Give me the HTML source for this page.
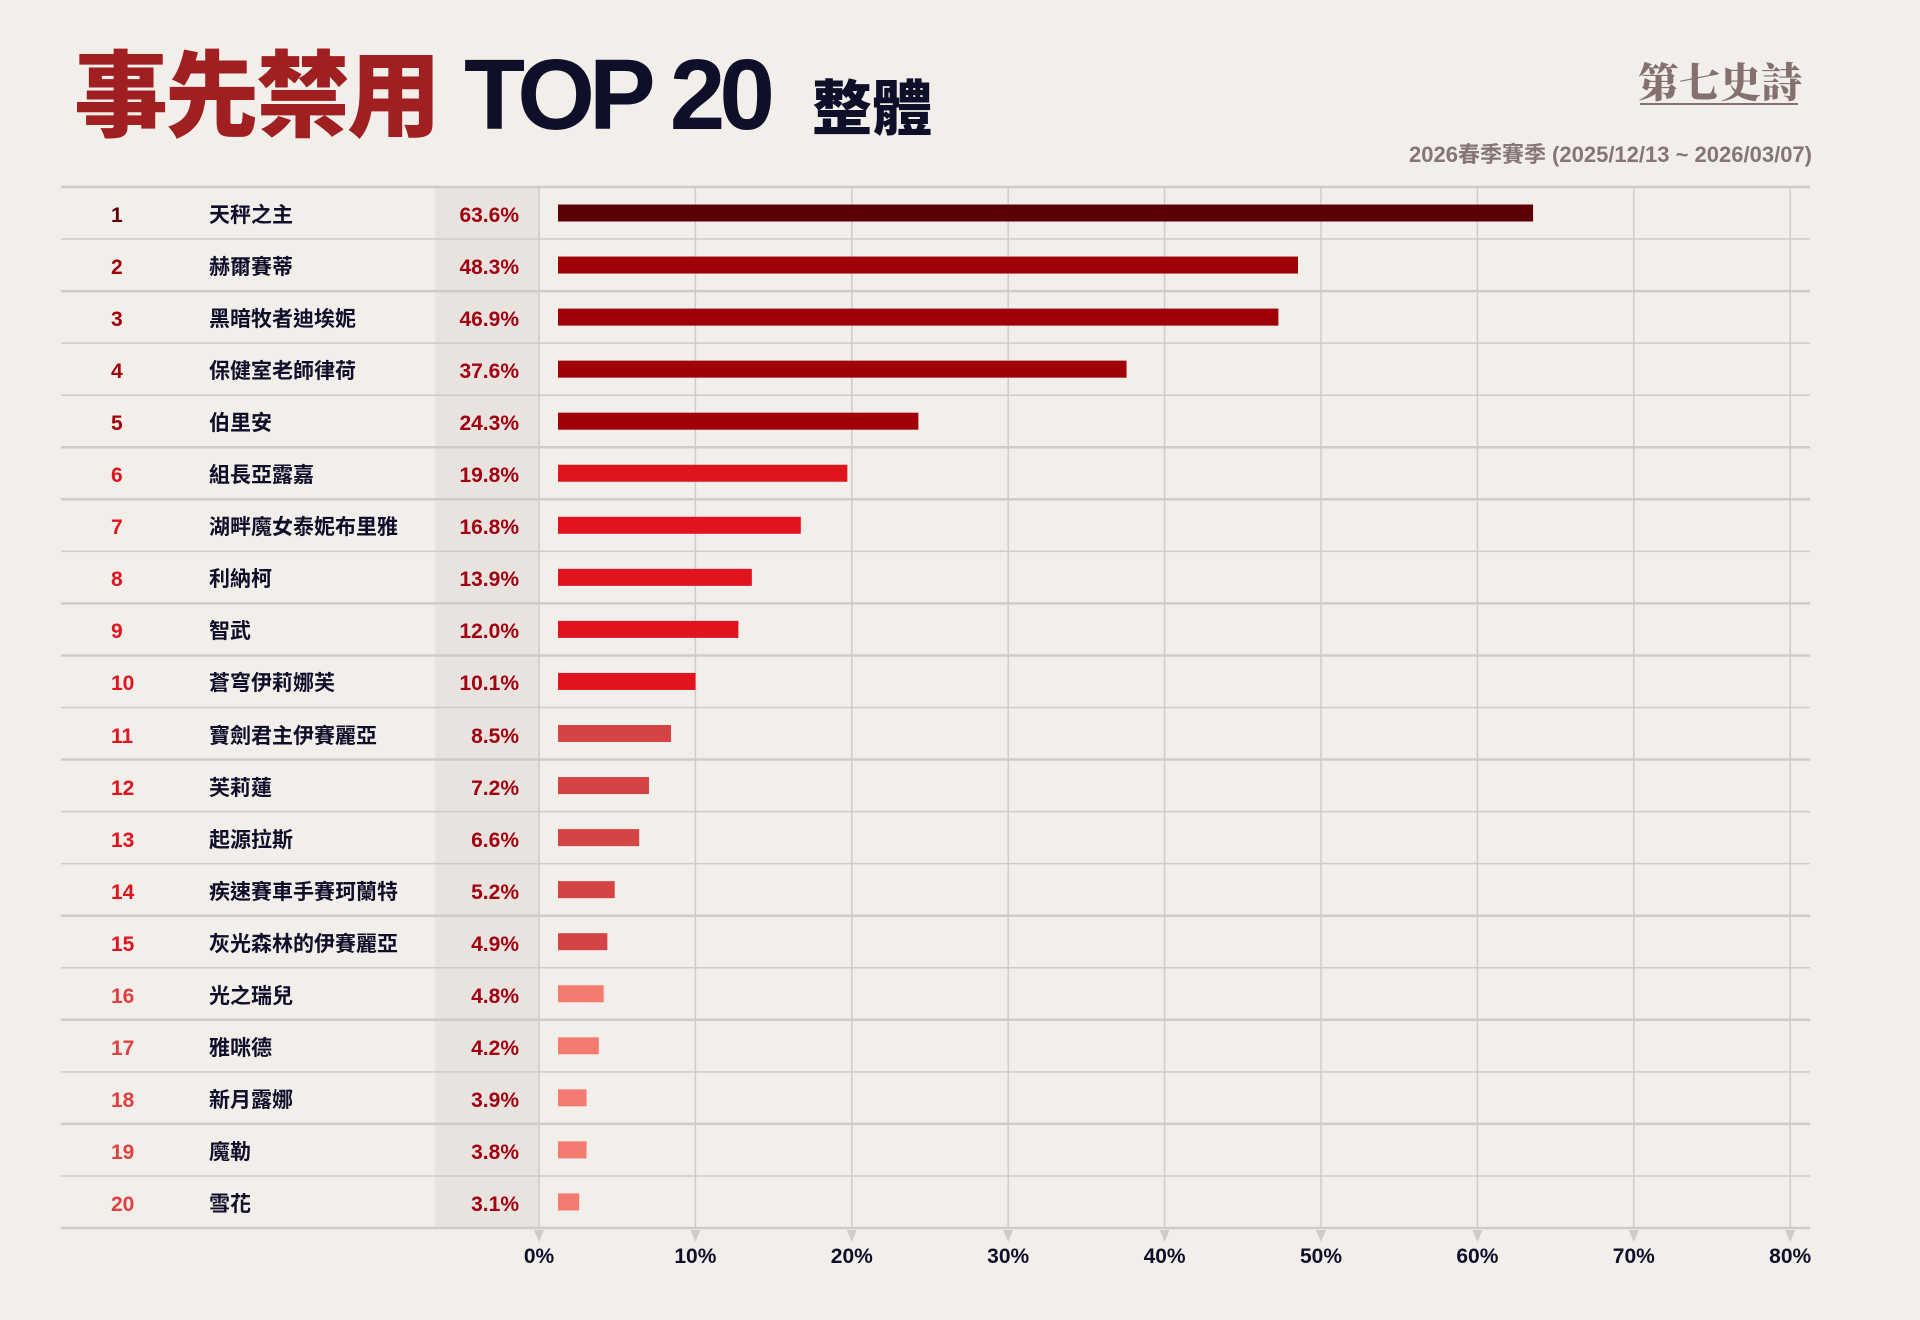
<!DOCTYPE html>
<html><head><meta charset="utf-8"><style>
body{margin:0;width:1920px;height:1320px;background:#f2eeea;font-family:"Liberation Sans","Noto Sans CJK TC",sans-serif;position:relative;overflow:hidden}
.a{position:absolute;white-space:nowrap}
</style></head><body>
<div class="a" style="left:74px;top:32px;font-size:94px;font-weight:900;color:#a02022;letter-spacing:-3px;line-height:130px">事先禁用</div>
<div class="a" style="left:464px;top:30px;font-size:100px;font-weight:900;color:#0f0f2a;letter-spacing:-6px;line-height:130px">TOP 20</div>
<div class="a" style="left:812px;top:70px;font-size:60px;font-weight:900;color:#0f0f2a;line-height:80px">整體</div>
<div class="a" style="left:1638px;top:52px;font-size:41px;font-weight:900;color:#857070;font-family:'Noto Serif CJK SC',serif;line-height:56px">第七史詩</div>
<div class="a" style="left:1640px;top:103px;width:158px;height:2px;background:#857070"></div>
<div class="a" style="right:108px;top:140px;font-size:22px;font-weight:bold;color:#857575;line-height:30px">2026春季賽季 (2025/12/13 ~ 2026/03/07)</div>
<div class="a" style="left:435px;top:187px;width:105px;height:1041px;background:#e8e3df"></div>
<svg class="a" style="left:0;top:0" width="1920" height="1320" id="s"></svg>
<div id="rows"></div>
<script>
var names=["天秤之主","赫爾賽蒂","黑暗牧者迪埃妮","保健室老師律荷","伯里安","組長亞露嘉","湖畔魔女泰妮布里雅","利納柯","智武","蒼穹伊莉娜芙","寶劍君主伊賽麗亞","芙莉蓮","起源拉斯","疾速賽車手賽珂蘭特","灰光森林的伊賽麗亞","光之瑞兒","雅咪德","新月露娜","魔勒","雪花"];
var pct=["63.6","48.3","46.9","37.6","24.3","19.8","16.8","13.9","12.0","10.1","8.5","7.2","6.6","5.2","4.9","4.8","4.2","3.9","3.8","3.1"];
var ends=[1252,1060,1044,920,750,692,654,614,603,568,548,530,522,502,496,493,489,479,479,473];
function col(i){return i==0?"#5c0008":i<5?"#a00008":i<10?"#e0141e":i<15?"#d44444":"#f47b70";}
function rc(i){return i==0?"#5c0008":i<5?"#a00008":i<10?"#e0141e":i<15?"#e0141e":"#e04040";}
var s="",h="";
for(var k=0;k<=8;k++){var x=539+k*156.4;s+='<line x1="'+x+'" y1="187" x2="'+x+'" y2="1228" stroke="#cfcbc8" stroke-width="1.5"/>';
s+='<polygon points="'+(x-5)+',1230 '+(x+5)+',1230 '+x+',1242" fill="#cfcbc8"/>';
s+='<text x="'+x+'" y="1263" text-anchor="middle" font-size="21" font-weight="bold" fill="#0f0f2a" font-family="Liberation Sans,sans-serif">'+(k*10)+'%</text>';}
var thick=[0,2,5,6,8,9,11,14,16,18,20];
for(var r=0;r<=20;r++){var y=187+r*52.05;var t=thick.indexOf(r)>=0?2.5:1.5;s+='<line x1="61" y1="'+y+'" x2="1810" y2="'+y+'" stroke="#cfcbc8" stroke-width="'+t+'"/>';}
for(var i=0;i<20;i++){var cy=187+i*52.05+27;var w=ends[i]*1.2245-558;
s+='<rect x="558" y="'+(cy-9.5)+'" width="'+w+'" height="17" fill="'+col(i)+'"/>';
h+='<div class="a" style="left:111px;top:'+(cy-13)+'px;font-size:21px;font-weight:bold;color:'+rc(i)+';line-height:30px">'+(i+1)+'</div>';
h+='<div class="a" style="left:209px;top:'+(cy-13)+'px;font-size:21px;font-weight:bold;color:#0f0f2a;line-height:30px">'+names[i]+'</div>';
h+='<div class="a" style="right:1401px;top:'+(cy-13)+'px;font-size:21px;font-weight:bold;color:#a00010;line-height:30px">'+pct[i]+'%</div>';}
document.getElementById("s").innerHTML=s;document.getElementById("rows").innerHTML=h;
</script>
</body></html>
